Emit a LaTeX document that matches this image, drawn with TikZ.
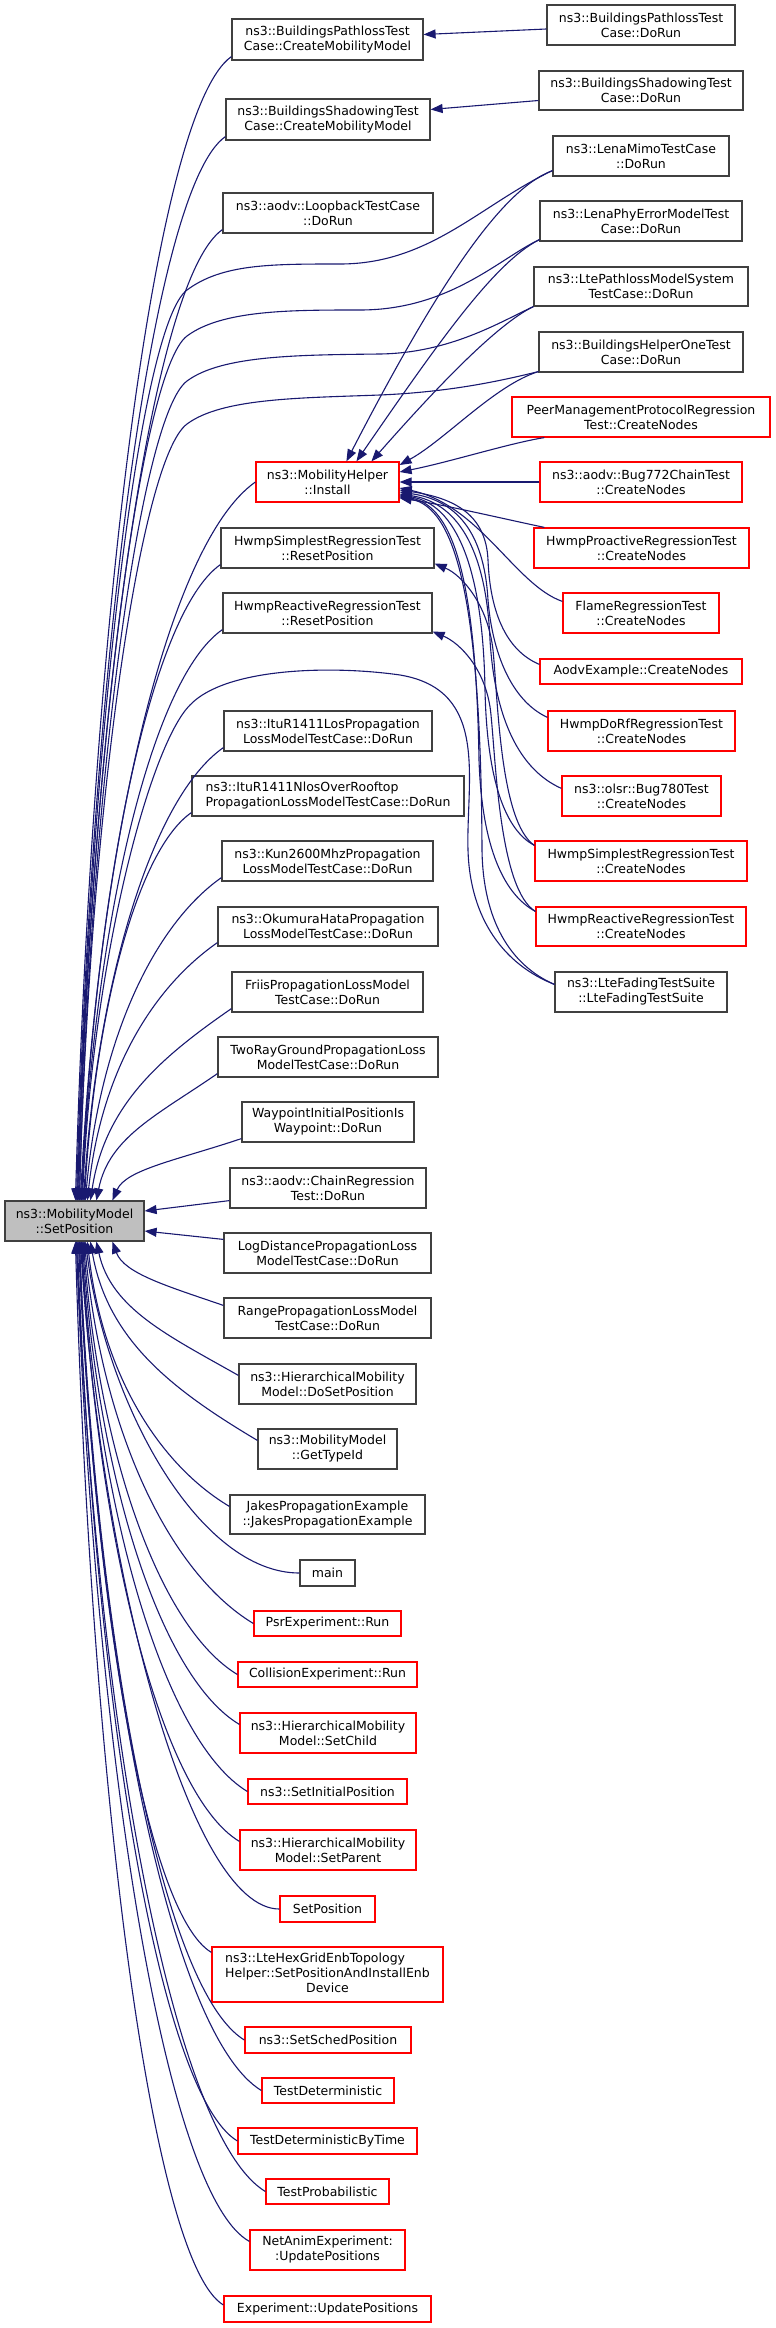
\documentclass[tikz,border=0pt]{standalone}
\usepackage{fontspec}
\setmainfont{DejaVu Sans}
\usetikzlibrary{arrows.meta}
\definecolor{edgeblue}{HTML}{191970}
\definecolor{boxgray}{HTML}{404040}
\definecolor{boxred}{HTML}{FF0000}
\definecolor{fillgray}{HTML}{BFBFBF}
\begin{document}
\begin{tikzpicture}[x=1pt,y=-1pt,
  bx/.style={draw=boxgray, line width=1.2pt, fill=white, inner sep=0pt, align=center,
    font={\fontsize{12.5pt}{15pt}\selectfont}},
  bxr/.style={bx, draw=boxred},
  wh/.style 2 args={minimum width=#1pt, minimum height=#2pt},
  e/.style={draw=edgeblue, line width=1.1pt, -{Triangle[length=12pt,width=9pt]}}]
\useasboundingbox (0,0) rectangle (776,2328);

% ---------- right column ----------
\node[bx, wh={188}{40}] (bpldr) at (641,25) {ns3::BuildingsPathlossTest\\Case::DoRun};
\node[bx, wh={204}{39}] (bshdr) at (641,90.5) {ns3::BuildingsShadowingTest\\Case::DoRun};
\node[bx, wh={176}{40}] (mimo) at (641,156) {ns3::LenaMimoTestCase\\::DoRun};
\node[bx, wh={202}{40}] (phy) at (641,221) {ns3::LenaPhyErrorModelTest\\Case::DoRun};
\node[bx, wh={214}{39}] (ltepl) at (641,286.5) {ns3::LtePathlossModelSystem\\TestCase::DoRun};
\node[bx, wh={204}{40}] (bho) at (641,352) {ns3::BuildingsHelperOneTest\\Case::DoRun};
\node[bxr, wh={258}{40}] (peer) at (641,417) {PeerManagementProtocolRegression\\Test::CreateNodes};
\node[bxr, wh={202}{40}] (b772) at (641,482) {ns3::aodv::Bug772ChainTest\\::CreateNodes};
\node[bxr, wh={215}{40}] (hpro) at (641.5,548) {HwmpProactiveRegressionTest\\::CreateNodes};
\node[bxr, wh={156}{40}] (flame) at (641,613) {FlameRegressionTest\\::CreateNodes};
\node[bxr, wh={202}{25}] (aodvex) at (641,671.5) {AodvExample::CreateNodes};
\node[bxr, wh={187}{40}] (dorf) at (641.5,731) {HwmpDoRfRegressionTest\\::CreateNodes};
\node[bxr, wh={159}{40}] (olsr) at (641.5,796) {ns3::olsr::Bug780Test\\::CreateNodes};
\node[bxr, wh={212}{40}] (hscn) at (641,861) {HwmpSimplestRegressionTest\\::CreateNodes};
\node[bxr, wh={210}{39}] (hrcn) at (641,926.5) {HwmpReactiveRegressionTest\\::CreateNodes};
\node[bx, wh={172}{40}] (fading) at (641,992) {ns3::LteFadingTestSuite\\::LteFadingTestSuite};

% ---------- middle column ----------
\node[bx, wh={191}{41}] (bplcm) at (327.5,39.5) {ns3::BuildingsPathlossTest\\Case::CreateMobilityModel};
\node[bx, wh={204}{41}] (bshcm) at (328,119.5) {ns3::BuildingsShadowingTest\\Case::CreateMobilityModel};
\node[bx, wh={210}{40}] (loop) at (328,213) {ns3::aodv::LoopbackTestCase\\::DoRun};
\node[bxr, wh={143}{40}] (inst) at (327.5,482) {ns3::MobilityHelper\\::Install};
\node[bx, wh={213}{40}] (hsrp) at (327.5,548) {HwmpSimplestRegressionTest\\::ResetPosition};
\node[bx, wh={209}{40}] (hrrp) at (327.5,613) {HwmpReactiveRegressionTest\\::ResetPosition};
\node[bx, wh={208}{40}] (itulos) at (328,731) {ns3::ItuR1411LosPropagation\\LossModelTestCase::DoRun};
\node[bx, wh={272}{40}, align=left] (itunlos) at (328,796) {ns3::ItuR1411NlosOverRooftop\\PropagationLossModelTestCase::DoRun};
\node[bx, wh={211}{40}] (kun) at (327.5,861) {ns3::Kun2600MhzPropagation\\LossModelTestCase::DoRun};
\node[bx, wh={220}{39}] (oku) at (328,926.5) {ns3::OkumuraHataPropagation\\LossModelTestCase::DoRun};
\node[bx, wh={191}{40}] (friis) at (327.5,992) {FriisPropagationLossModel\\TestCase::DoRun};
\node[bx, wh={220}{40}] (tworay) at (328,1057) {TwoRayGroundPropagationLoss\\ModelTestCase::DoRun};
\node[bx, wh={172}{40}] (wp) at (328,1122) {WaypointInitialPositionIs\\Waypoint::DoRun};
\node[bx, wh={196}{40}] (chain) at (328,1188) {ns3::aodv::ChainRegression\\Test::DoRun};
\node[bx, wh={207}{40}] (logd) at (327.5,1253) {LogDistancePropagationLoss\\ModelTestCase::DoRun};
\node[bx, wh={207}{40}] (range) at (327.5,1318) {RangePropagationLossModel\\TestCase::DoRun};
\node[bx, wh={177}{40}] (dosp) at (327.5,1384) {ns3::HierarchicalMobility\\Model::DoSetPosition};
\node[bx, wh={139}{40}] (gti) at (327.5,1449) {ns3::MobilityModel\\::GetTypeId};
\node[bx, wh={195}{39}] (jakes) at (327.5,1514.5) {JakesPropagationExample\\::JakesPropagationExample};
\node[bx, wh={55}{26}] (main) at (327.5,1573) {main};
\node[bxr, wh={147}{25}] (psr) at (327.5,1623.5) {PsrExperiment::Run};
\node[bxr, wh={179}{25}] (coll) at (327.5,1674.5) {CollisionExperiment::Run};
\node[bxr, wh={176}{40}] (setchild) at (328,1733) {ns3::HierarchicalMobility\\Model::SetChild};
\node[bxr, wh={159}{25}] (sip) at (327.5,1791.5) {ns3::SetInitialPosition};
\node[bxr, wh={176}{40}] (setparent) at (328,1850) {ns3::HierarchicalMobility\\Model::SetParent};
\node[bxr, wh={95}{26}] (setpos2) at (327.5,1909) {SetPosition};
\node[bxr, wh={231}{55}] (hex) at (327.5,1974.5) {\begin{tabular}{@{}l@{}}ns3::LteHexGridEnbTopology\\Helper::SetPositionAndInstallEnb\\\multicolumn{1}{@{}c@{}}{Device}\end{tabular}};
\node[bxr, wh={166}{26}] (ssp) at (328,2040) {ns3::SetSchedPosition};
\node[bxr, wh={132}{25}] (tdet) at (328,2090.5) {TestDeterministic};
\node[bxr, wh={179}{26}] (tdbt) at (327.5,2141) {TestDeterministicByTime};
\node[bxr, wh={123}{25}] (tprob) at (327.5,2191.5) {TestProbabilistic};
\node[bxr, wh={155}{40}] (netanim) at (327.5,2250) {NetAnimExperiment:\\:UpdatePositions};
\node[bxr, wh={207}{26}] (expup) at (327.5,2309) {Experiment::UpdatePositions};

% ---------- focus node ----------
\node[bx, fill=fillgray, wh={139}{40}] (sp) at (74.5,1221) {ns3::MobilityModel\\::SetPosition};

% ---------- edges: right -> middle ----------
\draw[e] ([yshift=-4pt]bpldr.west) -- ([yshift=5pt]bplcm.east);
\draw[e] ([yshift=-10pt]bshdr.west) -- ([yshift=10pt]bshcm.east);

% ---------- edges into Install ----------
\draw[e] ([yshift=6pt]mimo.south west) .. controls (500,190) and (435,290) .. ([xshift=91pt]inst.north west);
\draw[e] ([yshift=2pt]phy.south west) .. controls (495,262) and (440,340) .. ([xshift=101pt]inst.north west);
\draw[e] (ltepl.south west) .. controls (495,325) and (430,395) .. ([xshift=116pt]inst.north west);
\draw[e] ([yshift=1pt]bho.south west) .. controls (495,385) and (445,440) .. ([yshift=17pt]inst.east);
\draw[e] ([xshift=33pt]peer.south west) .. controls (510,443) and (450,462) .. ([yshift=10pt]inst.east);
\draw[e] (b772.west) -- (inst.east);
\draw[e] ([xshift=11pt]hpro.north west) .. controls (500,518) and (445,505) .. ([yshift=-16pt]inst.east);
\draw[e] ([yshift=-9pt]flame.north west) .. controls (515,585) and (480,505) .. ([yshift=-6pt]inst.east);
\draw[e] ([yshift=-6pt]aodvex.north west) .. controls (505,650) and (490,610) .. (488,560) .. controls (486,515) and (455,498) .. ([yshift=-8pt]inst.east);
\draw[e] ([yshift=-7pt]dorf.north west) .. controls (510,700) and (492,650) .. (488,600) .. controls (484,530) and (455,500) .. ([yshift=-10pt]inst.east);
\draw[e] ([yshift=-13pt]olsr.north west) .. controls (520,770) and (495,720) .. (490,640) .. controls (486,545) and (455,502) .. ([yshift=-12pt]inst.east);
\draw[e] ([yshift=-5pt]hscn.north west) .. controls (505,830) and (487,780) .. (485,690) .. controls (483,565) and (455,504) .. ([yshift=-13pt]inst.east);
\draw[e] ([yshift=-5pt]hrcn.north west) .. controls (505,895) and (482,850) .. (479,760) .. controls (476,585) and (455,506) .. ([yshift=-14pt]inst.east);
\draw[e] ([yshift=-13pt]fading.north west) .. controls (510,965) and (483,920) .. (482,850) .. controls (481,610) and (458,508) .. ([yshift=-15pt]inst.east);

% ---------- edges into ResetPosition ----------
\draw[e] ([yshift=-5pt]hscn.north west) .. controls (500,822) and (498,700) .. (493,650) .. controls (488,605) and (462,575) .. ([yshift=5pt]hsrp.south east);
\draw[e] ([yshift=-5pt]hrcn.north west) .. controls (500,890) and (496,765) .. (491,715) .. controls (487,670) and (460,643) .. ([yshift=2pt]hrrp.south east);

% ---------- right column directly into SetPosition ----------
\draw[e] ([yshift=6pt]mimo.south west) .. controls (480,205) and (430,264) .. (340,264) .. controls (270,264) and (222,264) .. (187,290) .. controls (139,326) and (90,747) .. ([xshift=73pt]sp.north west);
\draw[e] ([yshift=2pt]phy.south west) .. controls (500,258) and (450,310) .. (360,310) .. controls (290,310) and (222,310) .. (187,336) .. controls (140,371) and (90,768) .. ([xshift=74pt]sp.north west);
\draw[e] (ltepl.south west) .. controls (500,322) and (450,353) .. (380,354) .. controls (300,355) and (222,355) .. (187,381) .. controls (140,416) and (90,790) .. ([xshift=75pt]sp.north west);
\draw[e] ([yshift=1pt]bho.south west) .. controls (500,381) and (450,392) .. (380,395) .. controls (300,398) and (222,398) .. (187,424) .. controls (140,459) and (90,810) .. ([xshift=75pt]sp.north west);
\draw[e] ([yshift=-13pt]fading.north west) .. controls (505,965) and (470,920) .. (468,850) .. controls (466,780) and (490,690) .. (400,675) .. controls (330,665) and (225,668) .. (190,705) .. controls (150,745) and (93,958) .. ([xshift=78pt]sp.north west);

% ---------- middle column (above) into SetPosition ----------
\draw[e] ([yshift=4pt]bplcm.south west) .. controls (154,111) and (92,629) .. ([xshift=71pt]sp.north west);
\draw[e] ([yshift=4pt]bshcm.south west) .. controls (151.5,188) and (92,668) .. ([xshift=72pt]sp.north west);
\draw[e] ([yshift=4pt]loop.south west) .. controls (150.5,280) and (92.5,715) .. ([xshift=73pt]sp.north west);
\draw[e] (inst.west) .. controls (168.5,543) and (98.5,841) .. ([xshift=76pt]sp.north west);
\draw[e] ([yshift=4pt]hsrp.south west) .. controls (151.5,613) and (96,882) .. ([xshift=77pt]sp.north west);
\draw[e] ([yshift=4pt]hrrp.south west) .. controls (152.5,678) and (96,915) .. ([xshift=77pt]sp.north west);
\draw[e] ([yshift=4pt]itulos.south west) .. controls (154,796) and (98,974) .. ([xshift=79pt]sp.north west);
\draw[e] ([yshift=4pt]itunlos.south west) .. controls (138.5,849) and (95.7,1006) .. ([xshift=80pt]sp.north west);
\draw[e] ([yshift=4pt]kun.south west) .. controls (154,925) and (99.6,1039) .. ([xshift=81pt]sp.north west);
\draw[e] ([yshift=4pt]oku.south west) .. controls (153,987.5) and (101,1071.5) .. ([xshift=83pt]sp.north west);
\draw[e] ([yshift=4pt]friis.south west) .. controls (161.5,1057) and (105,1104.5) .. ([xshift=86pt]sp.north west);
\draw[e] ([yshift=4pt]tworay.south west) .. controls (157.5,1115) and (109,1137) .. ([xshift=92pt]sp.north west);
\draw[e] ([yshift=4pt]wp.south west) .. controls (177.5,1160) and (126,1169.5) .. ([xshift=108pt]sp.north west);

% ---------- beside ----------
\draw[e] ([yshift=8pt]chain.south west) -- ([yshift=10pt]sp.east);
\draw[e] ([yshift=-7pt]logd.north west) -- ([yshift=-10pt]sp.east);

% ---------- middle column (below) into SetPosition ----------
\draw[e] ([yshift=-8pt]range.north west) .. controls (168.5,1286.5) and (124,1273.5) .. ([xshift=108pt]sp.south west);
\draw[e] ([yshift=-12pt]dosp.north west) .. controls (168,1335.5) and (111,1308.5) .. ([xshift=92pt]sp.south west);
\draw[e] ([yshift=-12pt]gti.north west) .. controls (174.5,1391) and (107.7,1341) .. ([xshift=86pt]sp.south west);
\draw[e] ([yshift=-12pt]jakes.north west) .. controls (159,1464.4) and (102,1374) .. ([xshift=83pt]sp.south west);
\draw[e] (main.west) .. controls (200,1573) and (107,1407) .. ([xshift=81pt]sp.south west);
\draw[e] (psr.west) .. controls (169.5,1573) and (102,1432) .. ([xshift=80pt]sp.south west);
\draw[e] (coll.west) .. controls (161,1628.5) and (99.4,1458) .. ([xshift=79pt]sp.south west);
\draw[e] ([yshift=-12pt]setchild.north west) .. controls (161.5,1678) and (98.7,1483) .. ([xshift=78pt]sp.south west);
\draw[e] (sip.west) .. controls (165,1741.7) and (98.6,1516) .. ([xshift=77pt]sp.south west);
\draw[e] ([yshift=-12pt]setparent.north west) .. controls (161,1794.6) and (97.8,1541.5) .. ([xshift=77pt]sp.south west);
\draw[e] (setpos2.west) .. controls (190,1909) and (101,1575) .. ([xshift=76pt]sp.south west);
\draw[e] ([yshift=-6pt]hex.north west) .. controls (146,1913.4) and (93.2,1597) .. ([xshift=75pt]sp.south west);
\draw[e] (ssp.west) .. controls (162.5,1990.5) and (96.5,1640.5) .. ([xshift=75pt]sp.south west);
\draw[e] (tdet.west) .. controls (170.5,2035.5) and (97.3,1665.7) .. ([xshift=74pt]sp.south west);
\draw[e] (tdbt.west) .. controls (158,2093) and (94,1691) .. ([xshift=73pt]sp.south west);
\draw[e] (tprob.west) .. controls (171.5,2134.8) and (96,1716) .. ([xshift=72pt]sp.south west);
\draw[e] ([yshift=-12pt]netanim.north west) .. controls (163.5,2194) and (94.3,1743.5) .. ([xshift=72pt]sp.south west);
\draw[e] ([yshift=4pt]expup.west) .. controls (150,2260.6) and (90.8,1773) .. ([xshift=71pt]sp.south west);
\end{tikzpicture}
\end{document}
